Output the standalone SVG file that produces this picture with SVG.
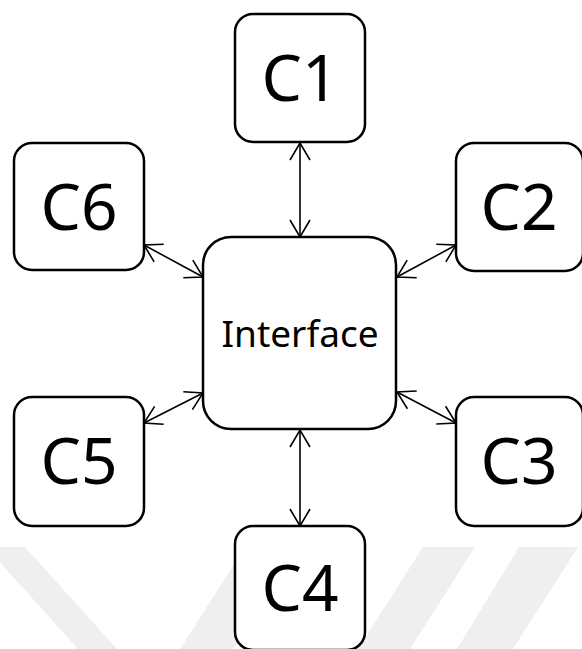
<svg xmlns="http://www.w3.org/2000/svg" width="582" height="649" viewBox="0 0 582 649">
  <defs>
    <style>
      .box { fill: #ffffff; stroke: #000000; stroke-width: 2.5; }
      .lbl { font-family: "Noto Sans", "Open Sans", "DejaVu Sans", sans-serif; fill: #000000; text-anchor: middle; }
      .big { font-size: 64px; }
      .mid { font-size: 37px; }
      .link { fill: none; stroke: #000000; stroke-width: 1.6; marker-start: url(#tip); marker-end: url(#tip); }
      .band { fill: #efefef; }
    </style>
    <marker id="tip" viewBox="-20 -12 22 24" refX="0" refY="0" markerWidth="22" markerHeight="24" markerUnits="userSpaceOnUse" orient="auto-start-reverse">
      <path d="M -17 -10 L 0 0 L -17 10" fill="none" stroke="#000000" stroke-width="1.6"/>
    </marker>
  </defs>

  <rect width="582" height="649" fill="#ffffff"/>

  <!-- faint background bands -->
  <g id="backdrop">
    <polygon class="band" points="-14,547 25,547 117,649 78,649"/>
    <polygon class="band" points="245,547 298,547 233,649 180,649"/>
    <polygon class="band" points="423,547 475,547 410,649 358,649"/>
    <polygon class="band" points="519,547 578,547 513,649 457,649"/>
  </g>

  <g id="connectors">
    <line class="link" x1="300" y1="143" x2="300" y2="237"/>
    <line class="link" x1="456" y1="245" x2="397" y2="277"/>
    <line class="link" x1="397" y1="392" x2="456" y2="423"/>
    <line class="link" x1="300" y1="430" x2="300" y2="526"/>
    <line class="link" x1="144" y1="423" x2="203" y2="393"/>
    <line class="link" x1="144" y1="245" x2="203" y2="277"/>
  </g>

  <g id="interface">
    <rect class="box" x="203" y="237" width="193" height="192" rx="28" ry="28"/>
    <text class="lbl mid" x="300" y="347">Interface</text>
  </g>
  <g id="c1">
    <rect class="box" x="235" y="14" width="130" height="128" rx="18" ry="18"/>
    <text class="lbl big" x="300" y="101">C1</text>
  </g>
  <g id="c2">
    <rect class="box" x="456" y="143" width="127" height="128" rx="18" ry="18"/>
    <text class="lbl big" x="519" y="230">C2</text>
  </g>
  <g id="c3">
    <rect class="box" x="456" y="397" width="127" height="129" rx="18" ry="18"/>
    <text class="lbl big" x="519" y="484">C3</text>
  </g>
  <g id="c4">
    <rect class="box" x="235" y="526" width="130" height="124" rx="18" ry="18"/>
    <text class="lbl big" x="300" y="611">C4</text>
  </g>
  <g id="c5">
    <rect class="box" x="14" y="397" width="130" height="129" rx="18" ry="18"/>
    <text class="lbl big" x="79" y="484">C5</text>
  </g>
  <g id="c6">
    <rect class="box" x="14" y="143" width="130" height="127" rx="18" ry="18"/>
    <text class="lbl big" x="79" y="230">C6</text>
  </g>
</svg>
